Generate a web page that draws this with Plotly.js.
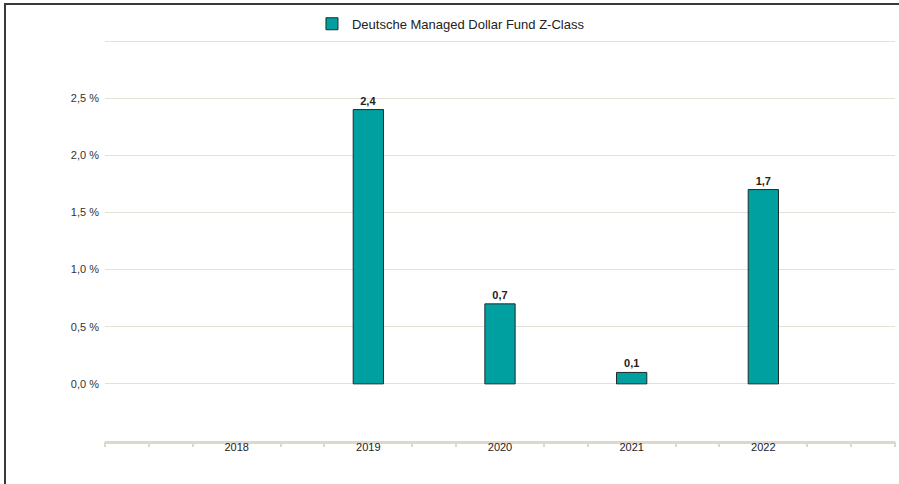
<!DOCTYPE html>
<html>
<head>
<meta charset="utf-8">
<script src="https://cdn.plot.ly/plotly-3.0.1.min.js"></script>
<style>
  html, body { margin:0; padding:0; background:#fff; }
  #wrap { position:relative; width:899px; height:484px; overflow:hidden; }
  #chart { position:absolute; left:0; top:0; width:899px; height:484px; }
  #frame { position:absolute; left:4px; top:3px; width:900px; height:490px;
           border-left:2px solid #3a3a3a; border-top:2px solid #3a3a3a; pointer-events:none; }
</style>
</head>
<body>
<div id="wrap">
  <div id="chart"></div>
  <div id="frame"></div>
</div>
<script>
const years = ['2018', '2019', '2020', '2021', '2022'];
const fundValues = [null, 2.4, 0.7, 0.1, 1.7];
const seriesName = 'Deutsche Managed Dollar Fund Z-Class';
const yTickVals = [0, 0.5, 1.0, 1.5, 2.0, 2.5, 3.0];
const yTickText = ['0,0 %', '0,5 %', '1,0 %', '1,5 %', '2,0 %', '2,5 %', ''];

const gridColor = '#e3e0d8';
const axisColor = '#ddd8cc';

// minor tick positions along the category axis (thirds, skipping category centres)
const minorTicks = [];
for (let i = -3; i <= 15; i++) {
  if (i % 3 !== 0) minorTicks.push(i / 3);
}
minorTicks.push(-1, 5);

const yTop = yTickVals[yTickVals.length - 1];

const traces = [
  {
    type: 'bar',
    name: seriesName,
    x: years,
    y: fundValues,
    width: 0.23,
    marker: { color: '#00a0a0', line: { color: '#1e2a2a', width: 1 } },
    text: fundValues.map(v => v == null ? '' : v.toFixed(1).replace('.', ',')),
    textposition: 'outside',
    cliponaxis: false,
    textfont: { family: 'Liberation Sans, Arial, sans-serif', size: 11, color: '#222', weight: 'bold' },
    hoverinfo: 'x+y'
  },
  {
    type: 'scatter',
    x: [0],
    y: [0],
    xaxis: 'x2',
    mode: 'markers',
    marker: { opacity: 0 },
    showlegend: false,
    hoverinfo: 'skip'
  }
];

const layout = {
  width: 899,
  height: 484,
  margin: { l: 105, r: 4, t: 41, b: 43 },
  paper_bgcolor: '#ffffff',
  plot_bgcolor: '#ffffff',
  separators: ',.',
  font: { family: 'Liberation Sans, Arial, sans-serif', size: 11, color: '#333' },
  showlegend: true,
  legend: {
    orientation: 'h',
    x: 0.262, xanchor: 'left',
    y: 1.043, yanchor: 'middle',
    font: { size: 13, color: '#222' },
    bgcolor: 'rgba(0,0,0,0)'
  },
  bargap: 0,
  shapes: [
    {
      type: 'line', xref: 'paper', yref: 'y',
      x0: 0, x1: 1, y0: yTop, y1: yTop,
      line: { color: gridColor, width: 2 },
      layer: 'below'
    }
  ],
  xaxis: {
    type: 'category',
    categoryorder: 'array',
    categoryarray: years,
    range: [-1, 5],
    showgrid: false,
    showline: true,
    linecolor: axisColor,
    linewidth: 3,
    ticks: '',
    ticklabelstandoff: -6,
    tickfont: { size: 11, color: '#222' },
    zeroline: false,
    fixedrange: true
  },
  xaxis2: {
    overlaying: 'x',
    anchor: 'y',
    side: 'bottom',
    range: [-1, 5],
    tickmode: 'array',
    tickvals: minorTicks,
    showticklabels: false,
    ticks: 'outside',
    ticklen: 5,
    tickwidth: 2,
    tickcolor: axisColor,
    showgrid: false,
    showline: false,
    zeroline: false,
    fixedrange: true
  },
  yaxis: {
    range: [-0.5, 3.0],
    tickmode: 'array',
    tickvals: yTickVals,
    ticktext: yTickText,
    showgrid: true,
    gridcolor: gridColor,
    gridwidth: 1,
    zeroline: false,
    showline: false,
    ticks: '',
    ticklabelstandoff: 5,
    tickfont: { size: 11, color: '#333' },
    fixedrange: true
  }
};

Plotly.newPlot('chart', traces, layout, { displayModeBar: false, staticPlot: true });
</script>
</body>
</html>
